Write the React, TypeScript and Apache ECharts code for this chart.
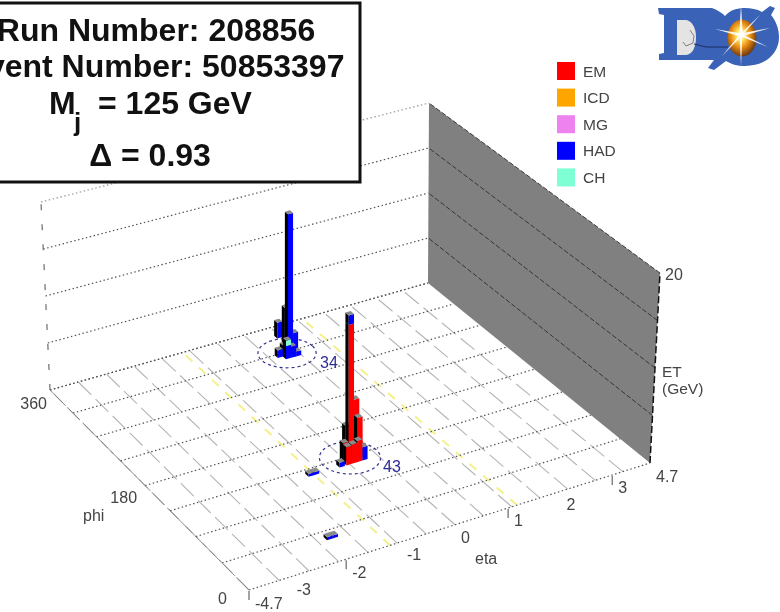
import React, { useEffect, useRef } from "react";
import * as echarts from "echarts";

// ---- axis ranges (eta axis runs evenly between its tick marks, the end labels read +-4.7)
const ETA_MIN = -3.74;
const ETA_MAX = 3.74;
const PHI_MAX = 360;
const ET_MAX = 20;
const TOWER_DETA = 0.1;
const TOWER_DPHI = 5.625;

const etaGrid = [-3.74, -3.206, -2.671, -2.137, -1.603, -1.069, -0.534, 0, 0.534, 1.069, 1.603, 2.137, 2.671, 3.206];
const phiGrid = [0, 45, 90, 135, 180, 225, 270, 315, 360];
const etGrid = [0, 5, 10, 15, 20];
const icdEta = [-1.2, 1.17];

const etaTickValues = [-3.74, -3, -2, -1, 0, 1, 2, 3, 3.74];
const etaTickLabels = ["-4.7", "-3", "-2", "-1", "0", "1", "2", "3", "4.7"];
const etaTickMarks = [-3.74, -2, 1, 3];
const phiTickValues = [360, 180, 0];
const phiTickLabels = ["360", "180", "0"];

// ---- calorimeter towers
const towerEta = [0.33, 0.33, 0.45, 0.43, 0.23, 0.33, 0.43, 0.23, 0.13, -0.43, -0.43, -0.33, -0.33, -0.6, -0.6, -0.5, -0.4, -0.3, -0.73, -1.31, -1.21, -1.99, -1.89];
const towerPhi = [309.4, 315, 340, 309.4, 303.8, 303.8, 303.8, 309.4, 309.4, 135, 140.6, 135, 129.4, 129.4, 123.8, 123.8, 123.8, 123.8, 123.8, 124, 124, 32, 32];
const towerEM = [0, 0, 0, 0, 0, 0, 0, 0, 0, 13.8, 2.9, 5.8, 4.2, 2, 1.9, 2, 2.2, 0, 0, 0, 0, 0, 0];
const towerICD = [0, 0, 0, 0, 0, 0, 0, 0, 0, 0, 0, 0, 0, 0, 0, 0, 0, 0, 0, 0, 0, 0, 0];
const towerMG = [0, 0, 0, 0, 0, 0, 0, 0, 0, 0, 0, 0, 0, 0, 0, 0, 0, 0, 0, 0, 0, 0, 0];
const towerHAD = [15.2, 4.8, 1.7, 2.2, 1.4, 1.2, 0.5, 1.2, 0.8, 1, 0, 0, 0, 0, 0, 0, 0, 1.4, 0.5, 0.3, 0.3, 0.3, 0.3];
const towerCH = [0, 0, 0, 0, 0.6, 0, 0, 0, 0, 0, 0, 0, 0, 0, 0, 0, 0, 0, 0, 0, 0, 0, 0];

// ---- jet cones
const coneEta = [0.35, -0.43];
const conePhi = [313, 133];
const coneLabels = ["34", "43"];

// ---- legend
const layerNames = ["EM", "ICD", "MG", "HAD", "CH"];
const layerColors = ["#ff0000", "#ffa500", "#ee82ee", "#0000ff", "#7fffd4"];

// ---- event box
const boxLines = ["Run Number: 208856", "Event Number: 50853397"];

const FONT = '"Liberation Sans", Arial, sans-serif';

type Pt = [number, number];

function quad(A: Pt, B: Pt, C: Pt, D: Pt) {
  const dx1 = B[0] - C[0], dx2 = D[0] - C[0], sx = A[0] - B[0] + C[0] - D[0];
  const dy1 = B[1] - C[1], dy2 = D[1] - C[1], sy = A[1] - B[1] + C[1] - D[1];
  const den = dx1 * dy2 - dx2 * dy1;
  const g = (sx * dy2 - dx2 * sy) / den;
  const h = (dx1 * sy - sx * dy1) / den;
  const a = B[0] - A[0] + g * B[0], b = D[0] - A[0] + h * D[0];
  const d = B[1] - A[1] + g * B[1], e = D[1] - A[1] + h * D[1];
  return (u: number, v: number): Pt => {
    const w = g * u + h * v + 1;
    return [(a * u + b * v + A[0]) / w, (d * u + e * v + A[1]) / w];
  };
}

// floor and ceiling of the 3D box on the page (front-left, front-right, back-right, back-left)
const floorQuad = quad([249, 590], [650, 463], [428, 283], [50, 390]);
const roofQuad = quad([242, 393], [660, 273], [429, 103], [41, 202]);

function projector(api: any) {
  return (eta: number, phi: number, et: number): Pt => {
    const s = api.getWidth();
    const t = api.getHeight();
    const c = api.coord([eta, phi]);
    const u = c[0] / s;
    const v = 1 - c[1] / t;
    const f = floorQuad(u, v);
    const r = roofQuad(u, v);
    const k = et / ET_MAX;
    return [f[0] + (r[0] - f[0]) * k, f[1] + (r[1] - f[1]) * k];
  };
}

function seg(p: Pt, q: Pt, stroke: string, dash: number[] | null, lineWidth = 1) {
  return {
    type: "line",
    shape: { x1: p[0], y1: p[1], x2: q[0], y2: q[1] },
    style: { stroke, lineDash: dash || undefined, lineWidth, fill: null },
  };
}

function custom(name: string, z: number, data: any[], render: (api: any, P: ReturnType<typeof projector>) => any) {
  return {
    type: "custom",
    name: name,
    coordinateSystem: "cartesian2d",
    silent: true,
    z,
    clip: false,
    data,
    renderItem: (_p: any, api: any) => render(api, projector(api)),
  };
}

function towerShape(api: any, P0: ReturnType<typeof projector>) {
  const eta = api.value(0);
  const phi = api.value(1);
  // towers stand straight up on the page
  const P = (e: number, p: number, z: number): Pt => [P0(e, p, 0)[0], P0(e, p, z)[1]];
  const children: any[] = [];
  let z0 = 0;
  layerColors.forEach((color, i) => {
    const e = api.value(2 + i);
    if (e <= 0) return;
    const z1 = z0 + e;
    const a0 = P(eta, phi, z0), a1 = P(eta, phi, z1);
    const b0 = P(eta + TOWER_DETA, phi, z0), b1 = P(eta + TOWER_DETA, phi, z1);
    const c0 = P(eta, phi + TOWER_DPHI, z0), c1 = P(eta, phi + TOWER_DPHI, z1);
    children.push({ type: "polygon", shape: { points: [a0, a1, c1, c0] }, style: { fill: "#000000" } });
    children.push({ type: "polygon", shape: { points: [a0, a1, b1, b0] }, style: { fill: color } });
    z0 = z1;
  });
  const t = [
    P(eta, phi, z0),
    P(eta + TOWER_DETA, phi, z0),
    P(eta + TOWER_DETA, phi + TOWER_DPHI, z0),
    P(eta, phi + TOWER_DPHI, z0),
  ];
  children.push({ type: "polygon", shape: { points: t }, style: { fill: "#8a8a8a" } });
  return { type: "group", children };
}

function buildOption() {
  const towers = towerEta
    .map((eta, i) => [eta, towerPhi[i], towerEM[i], towerICD[i], towerMG[i], towerHAD[i], towerCH[i]])
    .sort((p, q) => q[1] - p[1] || q[0] - p[0]);

  const txt = (text: string, x: number, y: number, size: number, extra: any = {}) => ({
    type: "text",
    z: 50,
    silent: true,
    style: { text, x, y, font: `${extra.weight || "normal"} ${size}px ${FONT}`, fill: extra.fill || "#444444", align: extra.align || "left", verticalAlign: "middle" },
  });

  const rays = [
    [741, 35, 741, 5, 1.8],
    [741, 35, 741, 66, 1.4],
    [741, 35, 715, 29, 1.5],
    [741, 35, 770, 28, 1.6],
    [741, 35, 768, 47, 1.3],
    [741, 35, 722, 56, 1.3],
    [741, 35, 760, 15, 1.2],
  ];

  const graphic: any[] = [
    // event box
    { type: "rect", z: 40, silent: true, shape: { x: -10, y: 3, width: 370, height: 179 }, style: { fill: "#ffffff", stroke: "#111111", lineWidth: 3 } },
    txt(boxLines[0], 156, 30, 32, { weight: "bold", fill: "#111111", align: "center" }),
    txt(boxLines[1], 155, 66, 32, { weight: "bold", fill: "#111111", align: "center" }),
    txt("M", 49, 103, 32, { weight: "bold", fill: "#111111" }),
    txt("j", 74, 122, 26, { weight: "bold", fill: "#111111" }),
    txt("= 125 GeV", 98, 103, 32, { weight: "bold", fill: "#111111" }),
    txt("\u0394 = 0.93", 150, 155, 32, { weight: "bold", fill: "#111111", align: "center" }),
    // axis titles
    txt("phi", 83, 515, 16),
    txt("eta", 475, 558, 16),
    txt("ET", 662, 371, 15.5),
    txt("(GeV)", 662, 388, 15.5),
    txt("20", 665, 274, 16),
    // logo
    { type: "d0logo", z: 42, silent: true, style: { fill: "#3a63b8" } },
    { type: "ellipse", z: 43, silent: true, shape: { cx: 742, cy: 38, rx: 14.5, ry: 18.5 },
      style: { fill: new echarts.graphic.RadialGradient(0.45, 0.42, 0.62, [
        { offset: 0, color: "#ffffff" },
        { offset: 0.25, color: "#ffe060" },
        { offset: 0.55, color: "#e88a10" },
        { offset: 1, color: "#5a2c10" },
      ]) } },
    { type: "d0counter", z: 43, silent: true, style: { fill: "#e4e4e4" } },
    { type: "polyline", z: 44, silent: true, shape: { points: [[694, 44], [706, 47], [728, 47]] }, style: { stroke: "#1c2c60", lineWidth: 1, fill: null } },
    { type: "polyline", z: 44, silent: true, shape: { points: [[690, 30], [694, 36], [693, 43], [686, 46], [683, 42]] }, style: { stroke: "#666666", lineWidth: 0.8, fill: null } },
  ];
  rays.forEach((r) => {
    const len = Math.hypot(r[2] - r[0], r[3] - r[1]);
    const nx = (-(r[3] - r[1]) / len) * r[4], ny = ((r[2] - r[0]) / len) * r[4];
    graphic.push({ type: "polygon", z: 45, silent: true, shape: { points: [[r[0] + nx, r[1] + ny], [r[2], r[3]], [r[0] - nx, r[1] - ny]] }, style: { fill: "#ffffff", opacity: 0.9 } });
  });

  return {
    animation: false,
    backgroundColor: "#ffffff",
    grid: { left: 0, right: 0, top: 0, bottom: 0 },
    xAxis: { type: "value", min: ETA_MIN, max: ETA_MAX, show: false },
    yAxis: { type: "value", min: 0, max: PHI_MAX, show: false },
    tooltip: { show: false },
    legend: {
      data: layerNames,
      orient: "vertical",
      left: 557,
      top: 62,
      padding: 0,
      itemWidth: 18,
      itemHeight: 18,
      itemGap: 8.6,
      icon: "rect",
      selectedMode: false,
      textStyle: { color: "#444444", fontSize: 15.5, fontFamily: FONT, padding: [0, 0, 0, 3] },
    },
    graphic,
    series: [
      ...layerNames.map((n, i) => ({ type: "custom", name: n, coordinateSystem: "cartesian2d", data: [], itemStyle: { color: layerColors[i] }, renderItem: () => null })),
      // back wall lines
      custom("backWall", 2, etGrid.map((e) => [e, 0]), (api, P) =>
        seg(P(ETA_MIN, PHI_MAX, api.value(0)), P(ETA_MAX, PHI_MAX, api.value(0)), api.value(0) === 20 ? "#999999" : "#555555", [1.5, 2.5], 1.2)),
      custom("backEdge", 2, [[0, 0]], (_api, P) =>
        seg(P(ETA_MIN, PHI_MAX, 0), P(ETA_MIN, PHI_MAX, ET_MAX), "#777777", [6, 14], 1.3)),
      // floor
      custom("etaGrid", 3, etaGrid.map((e) => [e, 0]), (api, P) =>
        seg(P(api.value(0), 0, 0), P(api.value(0), PHI_MAX, 0), "#b4b4b4", [18, 6], 1.1)),
      custom("icd", 4, icdEta.map((e) => [e, 0]), (api, P) =>
        seg(P(api.value(0), 0, 0), P(api.value(0), PHI_MAX, 0), "#f4f08a", [9, 9], 2)),
      custom("phiGrid", 5, phiGrid.map((p) => [0, p]), (api, P) =>
        seg(P(ETA_MIN, api.value(1), 0), P(ETA_MAX, api.value(1), 0), "#555555", [1.5, 2.5], 1.2)),
      custom("floorEdge", 5, [[0, 0]], (_api, P) =>
        seg(P(ETA_MIN, 0, 0), P(ETA_MIN, PHI_MAX, 0), "#888888", [16, 4], 1)),
      // right wall
      custom("sideWall", 6, [[0, 0]], (_api, P) => ({
        type: "polygon",
        shape: { points: [P(ETA_MAX, 0, 0), P(ETA_MAX, 0, ET_MAX), P(ETA_MAX, PHI_MAX, ET_MAX), P(ETA_MAX, PHI_MAX, 0)] },
        style: { fill: "#808080" },
      })),
      custom("sideWallLines", 7, etGrid.slice(1).map((e) => [e, 0]), (api, P) =>
        seg(P(ETA_MAX, 0, api.value(0)), P(ETA_MAX, PHI_MAX, api.value(0)), "#2e2e2e", [5, 2], 0.9)),
      custom("sideWallEdge", 7, [[0, 0]], (_api, P) =>
        seg(P(ETA_MAX, 0, 0), P(ETA_MAX, 0, ET_MAX), "#111111", [7, 3], 1.5)),
      // ticks
      custom("etaTicks", 8, etaTickMarks.map((e) => [e, 0]), (api, P) => {
        const p = P(api.value(0), 0, 0);
        return seg([p[0], p[1] + 1], [p[0], p[1] + 10], "#666666", null, 1.2);
      }),
      // cones
      custom("cones", 9, coneEta.map((e, i) => [e, conePhi[i]]), (api, P) => {
        const e = api.value(0), p = api.value(1);
        const pts: Pt[] = [];
        for (let i = 0; i <= 48; i++) {
          const a = (i / 48) * 2 * Math.PI;
          pts.push(P(e + 0.5 * Math.cos(a), p + 26 * Math.sin(a), 0));
        }
        return { type: "polyline", shape: { points: pts }, style: { stroke: "#33338f", lineWidth: 1.2, lineDash: [3, 3], fill: null } };
      }),
      // towers
      custom("towers", 10, towers, towerShape),
      // cone labels
      custom("coneLabels", 11, coneEta.map((e, i) => [e, conePhi[i], i]), (api, P) => {
        const c = P(api.value(0), api.value(1), 0);
        return { type: "text", style: { text: coneLabels[api.value(2)], x: c[0] + 42, y: c[1] + 9, font: `16px ${FONT}`, fill: "#2c2c96", align: "center", verticalAlign: "middle" } };
      }),
      // tick labels
      custom("etaLabels", 11, etaTickValues.map((e, i) => [e, 0, i]), (api, P) => {
        const c = P(api.value(0), 0, 0);
        return { type: "text", style: { text: etaTickLabels[api.value(2)], x: c[0] + 6, y: c[1] + 13, font: `16px ${FONT}`, fill: "#444444", align: "left", verticalAlign: "middle" } };
      }),
      custom("phiLabels", 11, phiTickValues.map((p, i) => [ETA_MIN, p, i]), (api, P) => {
        const c = P(ETA_MIN, api.value(1), 0);
        const i = api.value(2);
        const off = [[-3, 13], [-8, 12], [-22, 8]][i];
        return { type: "text", style: { text: phiTickLabels[i], x: c[0] + off[0], y: c[1] + off[1], font: `16px ${FONT}`, fill: "#444444", align: "right", verticalAlign: "middle" } };
      }),
    ],
  };
}

echarts.graphic.registerShape(
  "d0logo",
  echarts.graphic.extendPath(
    "M658 8 L712 8 C718 10 722 13 725 16 C730 10 737 8 745 8 C751 8 757 9 762 12 L770 6 L775 8 L771 15 C776 21 779 29 779 37 C779 54 765 66 745 66 C737 66 731 64 726 61 L714 70 L708 68 L714 60 L659 60 L659 54 L664 53 L664 15 L659 14 Z",
    {},
  ),
);
echarts.graphic.registerShape(
  "d0counter",
  echarts.graphic.extendPath("M677 20 L685 20 C692 20 696 28 696 37 C696 48 692 55 685 55 L677 55 Z", {}),
);

export default function App() {
  const ref = useRef<HTMLDivElement>(null);
  useEffect(() => {
    if (!ref.current) return;
    const chart = echarts.init(ref.current, undefined, { renderer: "svg" });
    chart.setOption(buildOption() as any);
    return () => chart.dispose();
  }, []);
  return (
    <div style={{ position: "fixed", left: 0, top: 0, width: 780, height: 612, overflow: "hidden", filter: "blur(0.7px)" }}>
      <div ref={ref} style={{ width: 780, height: 612 }} />
    </div>
  );
}
